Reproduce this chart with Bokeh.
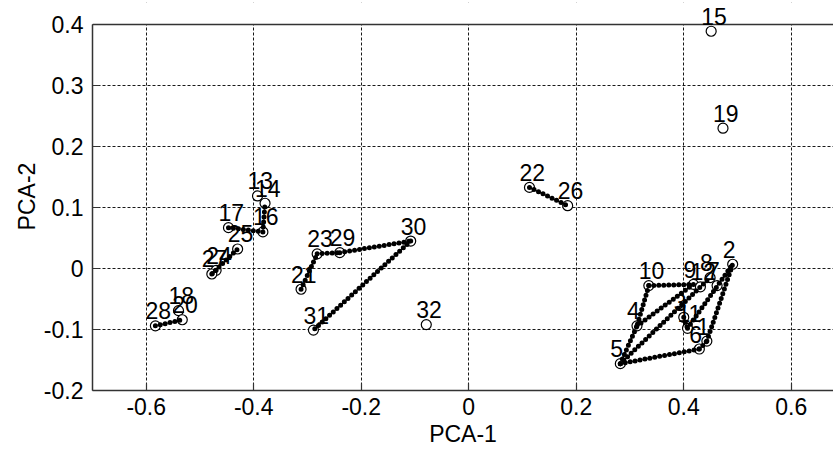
from bokeh.plotting import figure
from bokeh.models import Range1d, FixedTicker, Span, BoxAnnotation
from bokeh.embed import file_html
from bokeh.resources import INLINE
from bokeh.core.properties import value

# ---- data ----
point_ids = [1, 2, 3, 4, 5, 6, 7, 8, 9, 10, 11, 12, 13, 14, 15, 16,
             17, 18, 19, 20, 21, 22, 23, 24, 25, 26, 27, 28, 29, 30, 31, 32]
pca1 = [0.443, 0.491, 0.400, 0.313, 0.282, 0.429, 0.462, 0.449, 0.418, 0.335, 0.407, 0.431,
        -0.393, -0.379, 0.451, -0.383, -0.447, -0.540, 0.473, -0.533, -0.312, 0.113,
        -0.282, -0.470, -0.430, 0.184, -0.478, -0.583, -0.240, -0.108, -0.289, -0.079]
pca2 = [-0.119, 0.007, -0.080, -0.094, -0.156, -0.132, -0.028, -0.015, -0.026, -0.028, -0.098, -0.030,
        0.119, 0.107, 0.389, 0.060, 0.067, -0.069, 0.230, -0.084, -0.034, 0.133,
        0.024, -0.003, 0.032, 0.103, -0.009, -0.094, 0.026, 0.045, -0.101, -0.092]

# trajectories drawn as dotted trails between points (from id, to id)
trail_from = [22, 21, 23, 29, 30, 28, 27, 24, 17, 16, 10, 10, 4, 5, 5, 6, 1, 5, 11, 3]
trail_to   = [26, 23, 29, 30, 31, 20, 25, 27, 16, 14, 9, 4, 9, 4, 6, 1, 2, 8, 2, 11]

x_ticks = [-0.6, -0.4, -0.2, 0, 0.2, 0.4, 0.6]
x_tick_labels = ["-0.6", "-0.4", "-0.2", "0", "0.2", "0.4", "0.6"]
y_ticks = [-0.2, -0.1, 0, 0.1, 0.2, 0.3, 0.4]
y_tick_labels = ["-0.2", "-0.1", "0", "0.1", "0.2", "0.3", "0.4"]
y_lo, y_hi = -0.2, 0.4

FONT = "Liberation Sans"
AX = "#333333"

# the frame is extended a little above y_hi so the top labels are not clipped;
# the axes box itself ends at y_hi
p = figure(width=833, height=451,
           x_range=Range1d(-0.7, 0.6786), y_range=Range1d(y_lo, y_hi + 0.0361),
           output_backend="svg", toolbar_location=None,
           min_border_left=92, min_border_right=0, min_border_top=2, min_border_bottom=61)
p.outline_line_color = None
p.background_fill_color = "white"
p.border_fill_color = "white"

# axes
for ax, ticks, labs, lab in [(p.xaxis[0], x_ticks, x_tick_labels, "PCA-1"),
                             (p.yaxis[0], y_ticks, y_tick_labels, "PCA-2")]:
    ax.ticker = FixedTicker(ticks=ticks, minor_ticks=[])
    ax.major_label_overrides = {t: s for t, s in zip(ticks, labs)}
    ax.axis_label = lab
    ax.axis_label_text_font = FONT
    ax.axis_label_text_font_size = "23px"
    ax.axis_label_text_font_style = "normal"
    ax.axis_label_text_color = "black"
    ax.major_label_text_font = FONT
    ax.major_label_text_font_size = "23px"
    ax.major_label_text_color = "black"
    ax.axis_line_color = AX
    ax.axis_line_width = 1.5
    ax.major_tick_line_color = AX
    ax.major_tick_line_width = 1.2
    ax.major_tick_in = 7
    ax.major_tick_out = 0
    ax.minor_tick_line_color = None

p.yaxis[0].bounds = (y_lo, y_hi)
p.xaxis[0].major_label_standoff = 7
p.xaxis[0].axis_label_standoff = 3
p.yaxis[0].major_label_standoff = 9
p.yaxis[0].axis_label_standoff = 1

# grid
for g in (p.xgrid[0], p.ygrid[0]):
    g.grid_line_color = "black"
    g.grid_line_dash = "3 2"
    g.grid_line_width = 1
    g.grid_line_alpha = 0.9

# white strip above the axes box hides the grid there
p.add_layout(BoxAnnotation(bottom=y_hi, fill_color="white", fill_alpha=1,
                           line_color=None, level="underlay"))
# top frame line
p.add_layout(Span(location=y_hi, dimension="width", line_color=AX, line_width=1.5,
                  level="underlay"))

# markers
p.scatter(pca1, pca2, marker="circle", size=10, fill_color="white",
          line_color="black", line_width=1.2)

# dotted trails
idx = {pid: i for i, pid in enumerate(point_ids)}
x0 = [pca1[idx[a]] for a in trail_from]
y0 = [pca2[idx[a]] for a in trail_from]
x1 = [pca1[idx[b]] for b in trail_to]
y1 = [pca2[idx[b]] for b in trail_to]
p.segment(x0, y0, x1, y1, line_color="black", line_width=5,
          line_dash="0 5", line_cap="round")

# point labels
p.text(pca1, pca2, text=[str(i) for i in point_ids], text_font=value(FONT),
       text_font_size="23px", text_color="black", text_align="left",
       text_baseline="alphabetic", x_offset=-10, y_offset=-15)

open("out.html", "w").write(file_html(p, INLINE))
